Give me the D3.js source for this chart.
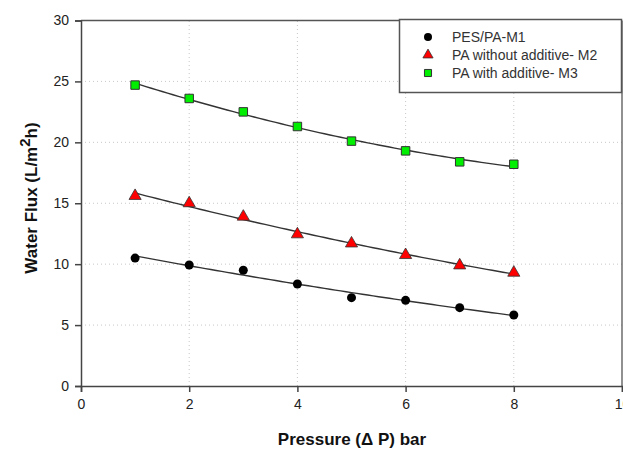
<!DOCTYPE html>
<html>
<head>
<meta charset="utf-8">
<script src="https://cdn.jsdelivr.net/npm/d3@7"></script>
<style>
  html, body { margin: 0; padding: 0; background: #fff; }
  svg { display: block; font-family: "Liberation Sans", Arial, sans-serif; }
</style>
</head>
<body>
<svg id="chart" width="623" height="449"></svg>
<script>
// ---- data ----
const pressure = [1, 2, 3, 4, 5, 6, 7, 8];
const m1 = [10.5, 9.93, 9.5, 8.37, 7.25, 7.03, 6.43, 5.83];
const m2 = [15.6, 15.0, 13.9, 12.45, 11.7, 10.75, 9.9, 9.3];
const m3 = [24.7, 23.6, 22.5, 21.3, 20.1, 19.3, 18.4, 18.2];
const seriesNames = ["PES/PA-M1", "PA without additive- M2", "PA with additive- M3"];
const xTicks = [0, 2, 4, 6, 8, 10];
const yTicks = [0, 5, 10, 15, 20, 25, 30];

const svg = d3.select("#chart");
const x = d3.scaleLinear().domain([0, 10]).range([81, 622]);
const y = d3.scaleLinear().domain([0, 30]).range([386, 20.5]);

// grid
const grid = svg.append("g");
grid.selectAll("line.gx").data(xTicks.filter(d => d > 0 && d < 10)).enter().append("line")
  .attr("x1", d => x(d)).attr("x2", d => x(d)).attr("y1", y(0)).attr("y2", y(30))
  .attr("stroke", "#c8c8c8").attr("stroke-width", 1).attr("stroke-dasharray", "1,3");
grid.selectAll("line.gy").data(yTicks.filter(d => d > 0 && d < 30)).enter().append("line")
  .attr("y1", d => y(d)).attr("y2", d => y(d)).attr("x1", x(0)).attr("x2", x(10))
  .attr("stroke", "#c8c8c8").attr("stroke-width", 1).attr("stroke-dasharray", "1,3");

// frame (top and right)
svg.append("line").attr("x1", x(0)).attr("x2", x(10)).attr("y1", y(30)).attr("y2", y(30))
  .attr("stroke", "#555").attr("stroke-width", 1.3);
svg.append("line").attr("x1", x(10)).attr("x2", x(10)).attr("y1", y(0)).attr("y2", y(30))
  .attr("stroke", "#555").attr("stroke-width", 1.3);

// axes
const xAxis = svg.append("g").attr("transform", `translate(0,${y(0)})`)
  .call(d3.axisBottom(x).tickValues(xTicks).tickFormat(d => d === 10 ? "10" : d).tickSize(6).tickPadding(7));
const yAxis = svg.append("g").attr("transform", `translate(${x(0)},0)`)
  .call(d3.axisLeft(y).tickValues(yTicks).tickSize(6).tickPadding(6));
[xAxis, yAxis].forEach(a => {
  a.select(".domain").attr("stroke", "#444").attr("stroke-width", 1.5);
  a.selectAll(".tick line").attr("stroke", "#444").attr("stroke-width", 1.5);
  a.selectAll(".tick text").attr("fill", "#222").style("font-size", "14px")
    .style("font-family", "'Liberation Sans', Arial, sans-serif");
});

// quadratic least squares fit
function quadFit(xs, ys) {
  let s = [0,0,0,0,0], t = [0,0,0];
  xs.forEach((xi, i) => {
    for (let k = 0; k < 5; k++) s[k] += Math.pow(xi, k);
    for (let k = 0; k < 3; k++) t[k] += ys[i] * Math.pow(xi, k);
  });
  const A = [[s[0], s[1], s[2], t[0]], [s[1], s[2], s[3], t[1]], [s[2], s[3], s[4], t[2]]];
  for (let i = 0; i < 3; i++) {
    for (let j = i + 1; j < 3; j++) {
      const f = A[j][i] / A[i][i];
      for (let k = i; k < 4; k++) A[j][k] -= f * A[i][k];
    }
  }
  const c = [0,0,0];
  for (let i = 2; i >= 0; i--) {
    let v = A[i][3];
    for (let k = i + 1; k < 3; k++) v -= A[i][k] * c[k];
    c[i] = v / A[i][i];
  }
  return xv => c[0] + c[1] * xv + c[2] * xv * xv;
}

const series = [m1, m2, m3];
const line = d3.line().x(d => x(d[0])).y(d => y(d[1]));
series.forEach(vals => {
  const f = quadFit(pressure, vals);
  const pts = d3.range(1, 8.001, 0.1).map(p => [p, f(p)]);
  svg.append("path").attr("d", line(pts)).attr("fill", "none")
    .attr("stroke", "#333").attr("stroke-width", 1.4);
});

// markers
const tri = d3.symbol().type(d3.symbolTriangle).size(64);
const sq = d3.symbol().type(d3.symbolSquare).size(72);
svg.append("g").selectAll("circle").data(pressure.map((p, i) => [p, m1[i]])).enter()
  .append("circle").attr("cx", d => x(d[0])).attr("cy", d => y(d[1])).attr("r", 4.5)
  .attr("fill", "#000");
svg.append("g").selectAll("path").data(pressure.map((p, i) => [p, m2[i]])).enter()
  .append("path").attr("d", tri).attr("transform", d => `translate(${x(d[0])},${y(d[1])})`)
  .attr("fill", "#ff0000").attr("stroke", "#333").attr("stroke-width", 0.8);
svg.append("g").selectAll("path").data(pressure.map((p, i) => [p, m3[i]])).enter()
  .append("path").attr("d", sq).attr("transform", d => `translate(${x(d[0])},${y(d[1])})`)
  .attr("fill", "#00ee00").attr("stroke", "#333").attr("stroke-width", 1);

// legend
const lg = svg.append("g");
lg.append("rect").attr("x", 399.5).attr("y", 19.5).attr("width", 222).attr("height", 73)
  .attr("fill", "#fff").attr("stroke", "#555").attr("stroke-width", 1.5);
const rows = [37, 55, 73];
lg.append("circle").attr("cx", 428).attr("cy", rows[0]).attr("r", 4).attr("fill", "#000");
lg.append("path").attr("d", d3.symbol().type(d3.symbolTriangle).size(45))
  .attr("transform", `translate(428,${rows[1]})`).attr("fill", "#ff0000").attr("stroke", "#333").attr("stroke-width", 0.8);
lg.append("path").attr("d", d3.symbol().type(d3.symbolSquare).size(50))
  .attr("transform", `translate(428,${rows[2]})`).attr("fill", "#00ee00").attr("stroke", "#333").attr("stroke-width", 1);
lg.selectAll("text").data(seriesNames).enter().append("text")
  .attr("x", 452).attr("y", (d, i) => rows[i]).attr("dy", "0.35em")
  .attr("fill", "#333").style("font-size", "14px").text(d => d);

// axis titles
svg.append("text").attr("x", 352).attr("y", 445).attr("text-anchor", "middle")
  .style("font-size", "17px").style("font-weight", "bold").attr("fill", "#111")
  .text("Pressure (\u0394 P) bar");
const yt = svg.append("text").attr("transform", "translate(37,198) rotate(-90)")
  .attr("text-anchor", "middle").style("font-size", "17px").style("font-weight", "bold").attr("fill", "#111");
yt.append("tspan").text("Water Flux (L/m");
yt.append("tspan").attr("dy", "-7").style("font-size", "15px").text("2");
yt.append("tspan").attr("dy", "7").text("h)");
</script>
</body>
</html>
